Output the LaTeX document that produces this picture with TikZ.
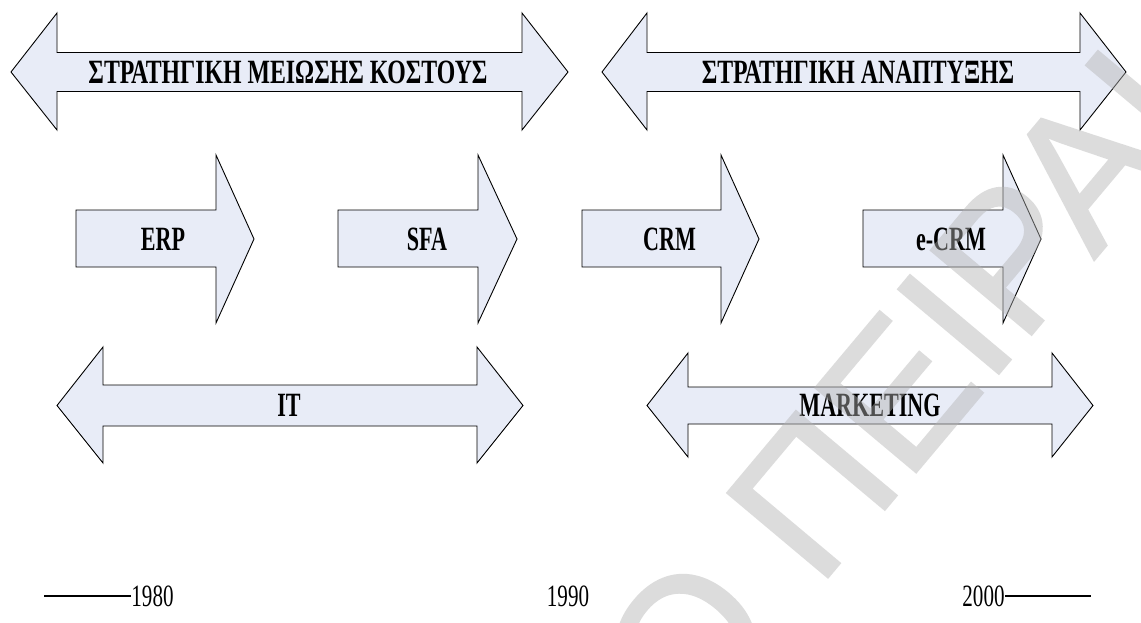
\documentclass[tikz,border=0pt]{standalone}
\usepackage{fontspec}
\usepackage{graphicx}
\setmainfont{Liberation Serif}
\newfontfamily\stampfont[FakeBold=1.5]{Liberation Sans}
\definecolor{arrowfill}{RGB}{232,236,247}
\definecolor{stampgray}{RGB}{179,179,179}
\tikzset{
  blockarrow/.style={draw=black, line width=0.9pt, fill=arrowfill, line join=miter},
  arrowlabel/.style={inner sep=0pt, font=\bfseries\fontsize{34}{34}\selectfont},
  yearlabel/.style={inner sep=0pt, font=\fontsize{31}{31}\selectfont},
  yearrule/.style={draw=black, line width=2.4pt},
  stamp/.style={inner sep=0pt, text=stampgray,
    font=\stampfont\fontsize{190}{190}\selectfont},
}
\newcommand\narrowtext[1]{\scalebox{0.65}[1]{#1}}
\newcommand\narrowgreek[1]{\scalebox{0.70}[1]{#1}}
\newcommand\narrowyear[1]{\scalebox{0.68}[1]{#1}}
\begin{document}
\begin{tikzpicture}[x=1pt,y=-1pt]
\useasboundingbox (0,0) rectangle (1141,623);
\fill[white] (0,0) rectangle (1141,623);

% top row: the two strategies
\draw[blockarrow] (11,72) -- (57,13) -- (57,52.5) -- (522,52.5) -- (522,13) -- (568,72)
  -- (522,130) -- (522,91.5) -- (57,91.5) -- (57,130) -- cycle;
\node[arrowlabel] (costs) at (288,72) {\narrowgreek{ΣΤΡΑΤΗΓΙΚΗ ΜΕΙΩΣΗΣ ΚΟΣΤΟΥΣ}};

\draw[blockarrow] (602,72) -- (647,13) -- (647,52.5) -- (1080,52.5) -- (1080,13) -- (1126,72)
  -- (1080,130) -- (1080,91.5) -- (647,91.5) -- (647,130) -- cycle;
\node[arrowlabel] (growth) at (858,72) {\narrowgreek{ΣΤΡΑΤΗΓΙΚΗ ΑΝΑΠΤΥΞΗΣ}};

% middle row: the systems in sequence
\draw[blockarrow] (76,210) -- (216,210) -- (216,155) -- (254,239) -- (216,323) -- (216,267) -- (76,267) -- cycle;
\node[arrowlabel] (erp) at (163,239) {\narrowtext{ERP}};

\draw[blockarrow] (338,210) -- (478,210) -- (478,155) -- (517,239) -- (478,323) -- (478,267) -- (338,267) -- cycle;
\node[arrowlabel] (sfa) at (427,239) {\narrowtext{SFA}};

\draw[blockarrow] (582,210) -- (721,210) -- (721,155) -- (759,239) -- (721,323) -- (721,267) -- (582,267) -- cycle;
\node[arrowlabel] (crm) at (669.5,239) {\narrowtext{CRM}};

\draw[blockarrow] (863,210) -- (1003,210) -- (1003,155) -- (1041,239) -- (1003,323) -- (1003,267) -- (863,267) -- cycle;
\node[arrowlabel] (ecrm) at (951,239) {\narrowtext{e-CRM}};

% bottom row: the functions
\draw[blockarrow] (57,405.5) -- (103,347) -- (103,385) -- (477,385) -- (477,347) -- (523,405.5)
  -- (477,463) -- (477,426) -- (103,426) -- (103,463) -- cycle;
\node[arrowlabel] (it) at (289,405.5) {\narrowtext{IT}};

\draw[blockarrow] (647,405.5) -- (688,353) -- (688,387) -- (1052,387) -- (1052,353) -- (1093,405.5)
  -- (1052,457) -- (1052,424) -- (688,424) -- (688,457) -- cycle;
\node[arrowlabel] (marketing) at (870,405.5) {\narrowtext{MARKETING}};

% time axis
\node[yearlabel] (y1980) at (152.5,596) {\narrowyear{1980}};
\node[yearlabel] (y1990) at (568,596) {\narrowyear{1990}};
\node[yearlabel] (y2000) at (983.5,596) {\narrowyear{2000}};
\coordinate (axisstart) at (44,596);
\coordinate (axisend) at (1091,596);
\draw[yearrule] (axisstart) -- (y1980.west);
\draw[yearrule] (y2000.east) -- (axisend);

% repository stamp across the page, composited as one translucent layer
\begin{scope}[transparency group, opacity=0.45]
  \clip (0,0) rectangle (1141,623);
  \node[stamp, rotate=50, anchor=base east] (stamptext) at (1291,25) {ΠΑΝΕΠΙΣΤΗΜΙΟ ΠΕΙΡΑΙΑ};
\end{scope}
\end{tikzpicture}
\end{document}
